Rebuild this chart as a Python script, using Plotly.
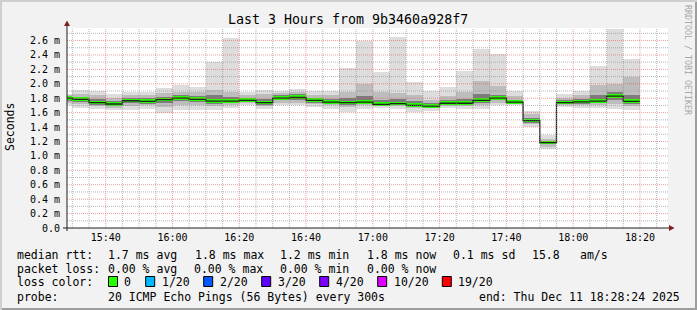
import plotly.graph_objects as go
import pandas as pd

DAY = "2025-12-11"
# 5-minute smokeping steps (end time of each step)
bar_end = pd.date_range(f"{DAY} 15:30", f"{DAY} 18:20", freq="5min")

median = [1.80, 1.785, 1.74, 1.72, 1.765, 1.755, 1.78, 1.80, 1.785, 1.76,
          1.76, 1.77, 1.74, 1.80, 1.81, 1.77, 1.745, 1.74, 1.745, 1.715,
          1.725, 1.70, 1.69, 1.73, 1.73, 1.77, 1.80, 1.745, 1.49, 1.185,
          1.74, 1.75, 1.76, 1.83, 1.755]
ping_max = [1.86, 1.915, 1.90, 1.855, 1.88, 1.88, 1.94, 1.98, 1.95, 2.30,
            2.64, 1.88, 1.92, 1.90, 1.93, 1.90, 1.90, 2.22, 2.59, 2.16,
            2.655, 2.03, 1.90, 1.95, 2.175, 2.48, 2.415, 1.90, 1.625, 1.29,
            1.86, 1.90, 2.245, 2.76, 2.35]
ping_min = [1.70, 1.66, 1.65, 1.64, 1.63, 1.65, 1.60, 1.63, 1.63, 1.63,
            1.66, 1.70, 1.65, 1.70, 1.70, 1.68, 1.65, 1.615, 1.65, 1.66,
            1.65, 1.615, 1.62, 1.66, 1.65, 1.65, 1.70, 1.70, 1.40, 1.09,
            1.675, 1.66, 1.66, 1.65, 1.63]
outer_hi = [1.84, 1.86, 1.84, 1.80, 1.85, 1.84, 1.87, 1.88, 1.88, 1.91,
            1.89, 1.84, 1.86, 1.87, 1.88, 1.85, 1.84, 1.88, 2.00, 1.89,
            1.87, 1.84, 1.78, 1.83, 1.88, 2.04, 1.97, 1.83, 1.58, 1.24,
            1.81, 1.84, 1.98, 2.00, 2.09]
outer_lo = [1.73, 1.72, 1.69, 1.67, 1.69, 1.70, 1.68, 1.70, 1.70, 1.69,
            1.70, 1.73, 1.69, 1.74, 1.74, 1.72, 1.70, 1.68, 1.70, 1.69,
            1.69, 1.66, 1.66, 1.69, 1.69, 1.71, 1.74, 1.72, 1.44, 1.13,
            1.70, 1.70, 1.70, 1.72, 1.69]
inner_hi = [1.82, 1.82, 1.79, 1.76, 1.81, 1.80, 1.82, 1.84, 1.83, 1.84,
            1.82, 1.81, 1.79, 1.84, 1.86, 1.81, 1.79, 1.80, 1.83, 1.78,
            1.79, 1.76, 1.73, 1.77, 1.79, 1.86, 1.85, 1.78, 1.53, 1.21,
            1.77, 1.79, 1.84, 1.88, 1.84]
inner_lo = [1.76, 1.75, 1.71, 1.69, 1.73, 1.72, 1.74, 1.76, 1.75, 1.72,
            1.73, 1.75, 1.71, 1.77, 1.77, 1.74, 1.72, 1.71, 1.72, 1.69,
            1.70, 1.68, 1.67, 1.71, 1.71, 1.74, 1.77, 1.73, 1.46, 1.16,
            1.72, 1.72, 1.73, 1.77, 1.72]

y_tickvals = [0.0, 0.2, 0.4, 0.6, 0.8, 1.0, 1.2, 1.4, 1.6, 1.8, 2.0, 2.2, 2.4, 2.6]
y_ticktext = ["0.0", "0.2 m", "0.4 m", "0.6 m", "0.8 m", "1.0 m", "1.2 m", "1.4 m",
              "1.6 m", "1.8 m", "2.0 m", "2.2 m", "2.4 m", "2.6 m"]

loss_labels = ["0", "1/20", "2/20", "3/20", "4/20", "10/20", "19/20"]
loss_colors = ["#26ff00", "#00b8ff", "#0059ff", "#5e00ff", "#7e00ff", "#dd00ff", "#ff0000"]

W, H = 697, 310
L, R, T, B = 67, 29, 28, 82
PW, PH = W - L - R, H - T - B
YMAX = 2.774
X0, X1 = f"{DAY} 15:28:24", f"{DAY} 18:28:24"
MONO = "DejaVu Sans Mono"


def px(p):
    return (p - L) / PW


def py(p):
    return (T + PH - p) / PH


step = pd.Timedelta("5min")
centers = bar_end - step / 2
width_ms = 300000

fig = go.Figure()


def band(lo, hi, color):
    fig.add_trace(go.Bar(x=centers, base=lo, y=[h - l for l, h in zip(lo, hi)],
                         width=width_ms, marker=dict(color=color, line=dict(width=0)),
                         hoverinfo="skip", showlegend=False))


band(ping_min, ping_max, "#dddddd")
band(outer_lo, outer_hi, "#bdbdbd")
band(inner_lo, inner_hi, "#7c7c7c")

# median step line
xs = list(bar_end - step) + [bar_end[-1]]
ys = list(median) + [median[-1]]
fig.add_trace(go.Scatter(x=xs, y=ys, mode="lines", line=dict(color="#202020", width=1.3, shape="hv"),
                         hoverinfo="skip", showlegend=False))
# green loss band
fig.add_trace(go.Bar(x=centers, base=[m - 0.022 for m in median], y=[0.05] * len(median),
                     width=width_ms, marker=dict(color="#26ff00", line=dict(width=0)),
                     hoverinfo="skip", showlegend=False))

shapes = []
# grid lines (drawn above, like rrdtool)
GRID = "rgba(143,143,143,0.65)"
MGRID = "rgba(222,79,79,0.55)"
for i in range(1, 28):
    v = i / 10
    major = (i % 2 == 0)
    shapes.append(dict(type="line", xref="paper", yref="y", x0=0, x1=1, y0=v, y1=v, layer="above",
                       line=dict(color=MGRID if major else GRID, width=1, dash="1px,1px")))
for t in pd.date_range(f"{DAY} 15:30", f"{DAY} 18:25", freq="5min"):
    major = (t.minute % 20 == 0)
    shapes.append(dict(type="line", xref="x", yref="paper", x0=t, x1=t, y0=0, y1=1, layer="above",
                       line=dict(color=MGRID if major else GRID, width=1, dash="1px,1px")))

# axes with arrows
AX = "#1f1f1f"
ARROW = "#801f1f"
shapes.append(dict(type="line", xref="paper", yref="paper", x0=0, x1=0, y0=py(231), y1=py(24),
                   layer="above", line=dict(color=AX, width=1)))
shapes.append(dict(type="line", xref="paper", yref="paper", x0=px(63), x1=px(670), y0=0, y1=0,
                   layer="above", line=dict(color=AX, width=1)))
shapes.append(dict(type="path", xref="paper", yref="paper", layer="above",
                   path=f"M {px(64)} {py(26)} L {px(70)} {py(26)} L {px(67)} {py(20.5)} Z",
                   fillcolor=ARROW, line=dict(width=0)))
shapes.append(dict(type="path", xref="paper", yref="paper", layer="above",
                   path=f"M {px(669)} {py(225)} L {px(669)} {py(231)} L {px(674.5)} {py(228)} Z",
                   fillcolor=ARROW, line=dict(width=0)))

# frame (shade A top/left, shade B bottom/right)
shapes.append(dict(type="rect", xref="paper", yref="paper", x0=px(0), x1=px(W), y0=py(0), y1=py(2),
                   fillcolor="#cfcfcf", line=dict(width=0), layer="below"))
shapes.append(dict(type="rect", xref="paper", yref="paper", x0=px(0), x1=px(2), y0=py(0), y1=py(H),
                   fillcolor="#cfcfcf", line=dict(width=0), layer="below"))
shapes.append(dict(type="rect", xref="paper", yref="paper", x0=px(2), x1=px(W), y0=py(H - 2), y1=py(H),
                   fillcolor="#9e9e9e", line=dict(width=0), layer="below"))
shapes.append(dict(type="rect", xref="paper", yref="paper", x0=px(W - 2), x1=px(W), y0=py(2), y1=py(H),
                   fillcolor="#9e9e9e", line=dict(width=0), layer="below"))

annotations = []


def text(s, x, y, size=11.5, color="black", anchor="left", angle=0):
    annotations.append(dict(text=s, xref="paper", yref="paper", x=px(x), y=py(y), showarrow=False,
                            xanchor=anchor, yanchor="middle", textangle=angle,
                            font=dict(family=MONO, size=size, color=color), borderpad=0))


text("Last 3 Hours from 9b3460a928f7", 348, 19.5, size=13.3, anchor="center")
text("Seconds", 10, 127, size=11.5, anchor="center", angle=-90)
text("RRDTOOL / TOBI OETIKER", 688, 60, size=8.3, color="#a8a8a8", anchor="center", angle=90)

# legend lines
row1 = [("median rtt:", 16), ("1.7 ms avg", 107.3), ("1.8 ms max", 194), ("1.2 ms min", 279.3),
        ("1.8 ms now", 366), ("0.1 ms sd", 451.7), ("15.8", 531), ("am/s", 579.3)]
row2 = [("packet loss:", 16), ("0.00 % avg", 107.3), ("0.00 % max", 193.3), ("0.00 % min", 279.3),
        ("0.00 % now", 366)]
row4 = [("probe:", 16), ("20 ICMP Echo Pings (56 Bytes) every 300s", 107.3),
        ("end: Thu Dec 11 18:28:24 2025", 478.3)]
for s, x in row1:
    text(s, x, 254.5)
for s, x in row2:
    text(s, x, 268.5)
text("loss color:", 16, 282)
box_x = [108.5, 145.7, 203.7, 261.7, 319.7, 377.7, 442.3]
for lab, col, bx in zip(loss_labels, loss_colors, box_x):
    shapes.append(dict(type="rect", xref="paper", yref="paper", x0=px(bx), x1=px(bx + 9),
                       y0=py(286.5), y1=py(276.5), fillcolor=col, line=dict(color="black", width=1)))
    text(lab, bx + 14.8, 282)
for s, x in row4:
    text(s, x, 296.5)

fig.update_layout(
    width=W, height=H,
    margin=dict(l=L, r=R, t=T, b=B, pad=0),
    paper_bgcolor="#f2f2f2", plot_bgcolor="white",
    barmode="overlay", bargap=0,
    showlegend=False,
    shapes=shapes, annotations=annotations,
    xaxis=dict(type="date", range=[X0, X1], showgrid=False, zeroline=False, showline=False,
               tickformat="%H:%M", dtick=1200000, tick0=f"{DAY} 15:40", ticks="",
               ticklabelstandoff=2,
               tickfont=dict(family=MONO, size=10, color="black"), fixedrange=True),
    yaxis=dict(range=[0, YMAX], showgrid=False, zeroline=False, showline=False,
               tickvals=y_tickvals, ticktext=y_ticktext, ticks="", ticklabelstandoff=6,
               tickfont=dict(family=MONO, size=10, color="black"), fixedrange=True),
)

fig.write_html("out.html")
